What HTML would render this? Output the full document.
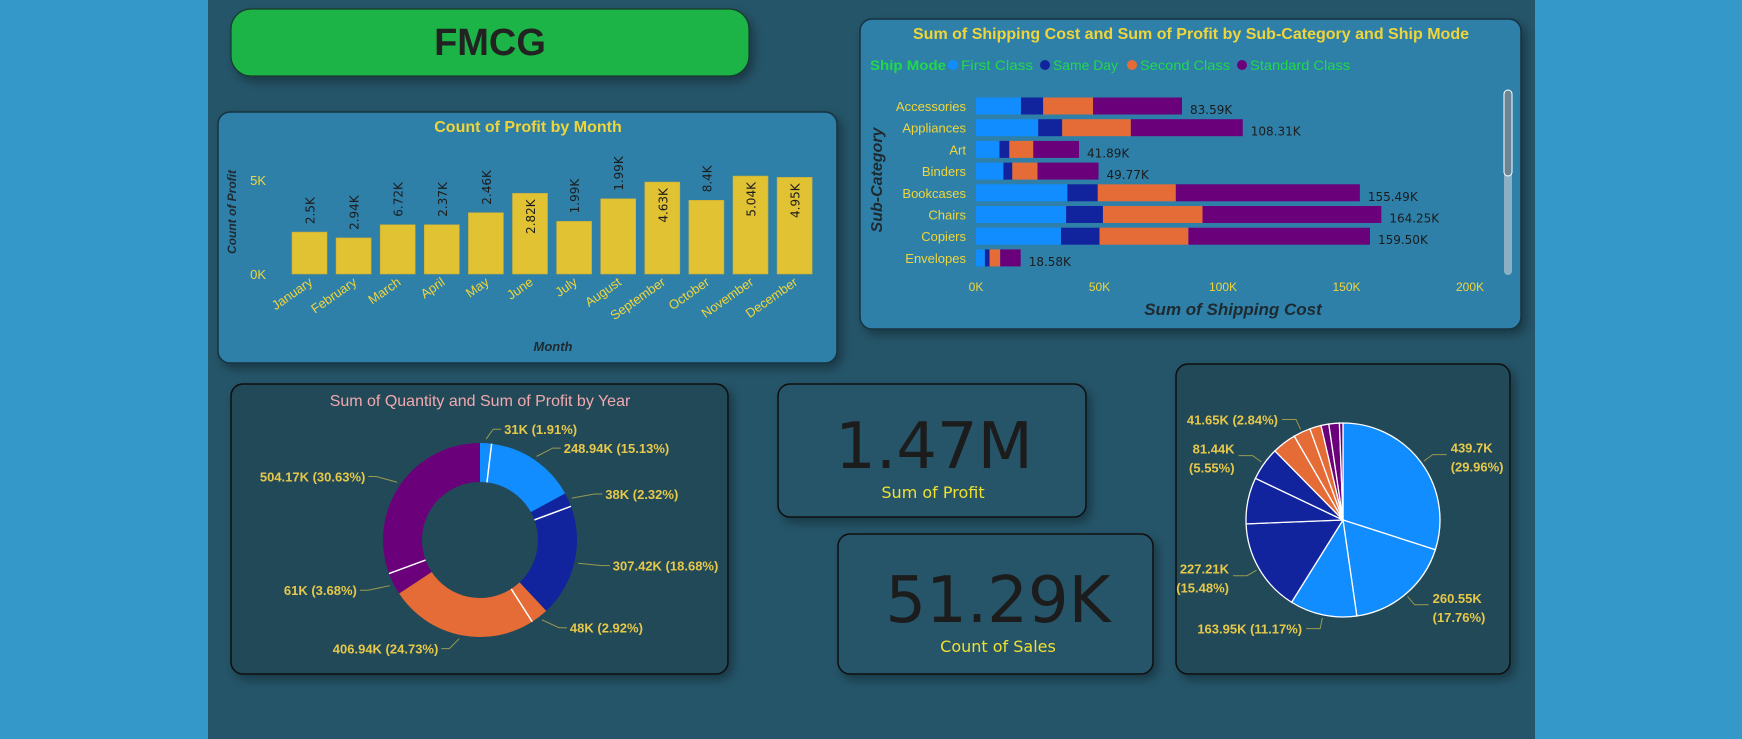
<!DOCTYPE html>
<html><head><meta charset="utf-8"><style>
html,body{margin:0;padding:0;background:#3499c9;}
svg{display:block;font-family:"Liberation Sans Narrow","Liberation Sans",sans-serif;}
</style></head><body>
<svg id="s" width="1742" height="739" viewBox="0 0 1742 739" xmlns="http://www.w3.org/2000/svg">
<defs><filter id="sh" x="-10%" y="-10%" width="130%" height="140%"><feDropShadow dx="4" dy="5" stdDeviation="5" flood-color="#000" flood-opacity="0.35"/></filter></defs>
<rect x="0" y="0" width="1742" height="739" fill="#3499c9"/>
<rect x="208" y="0" width="1327" height="739" fill="#255569"/>
<g>
<rect x="231" y="9" width="518" height="67" rx="20" fill="#1db446" stroke="#183a2a" stroke-width="1.2" filter="url(#sh)"/>
<text x="490" y="55" text-anchor="middle" font-family="Liberation Sans" font-weight="bold" font-size="38" fill="#222">FMCG</text>
</g>
<g id="barCard">
<rect x="218" y="112" width="619" height="251" rx="12" fill="#2e80a9" stroke="#17323f" stroke-width="1.5" filter="url(#sh)"/>
<text x="528" y="132" text-anchor="middle" font-size="16" font-weight="bold" fill="#f0d53a">Count of Profit by Month</text>
<text transform="translate(236,212) rotate(-90)" text-anchor="middle" font-family="Liberation Sans" font-size="12" font-weight="bold" font-style="italic" fill="#1e2a30">Count of Profit</text>
<text x="553" y="351" text-anchor="middle" font-family="Liberation Sans" font-size="13" font-weight="bold" font-style="italic" fill="#1e2a30">Month</text>
</g>
<g id="hbarCard">
<rect x="860" y="19" width="661" height="310" rx="12" fill="#2e80a9" stroke="#17323f" stroke-width="1.5" filter="url(#sh)"/>
<text x="1191" y="39" text-anchor="middle" font-size="16" font-weight="bold" fill="#f0d53a" textLength="556" lengthAdjust="spacingAndGlyphs">Sum of Shipping Cost and Sum of Profit by Sub-Category and Ship Mode</text>
<text transform="translate(882,180) rotate(-90)" text-anchor="middle" font-family="Liberation Sans" font-size="16" font-weight="bold" font-style="italic" fill="#1e2a30">Sub-Category</text>
<text x="1233" y="315" text-anchor="middle" font-family="Liberation Sans" font-size="17" font-weight="bold" font-style="italic" fill="#1e2a30">Sum of Shipping Cost</text>
<rect x="1504" y="90" width="8" height="185" rx="4" fill="#8bb0c4"/>
<rect x="1504" y="90" width="8" height="86" rx="4" fill="#6c8594" stroke="#fff" stroke-width="1"/>
</g>
<g id="donutCard">
<rect x="231" y="384" width="497" height="290" rx="12" fill="#234859" stroke="#111" stroke-width="1.5" filter="url(#sh)"/>
<text x="480" y="406" text-anchor="middle" font-size="16" fill="#f1a9b0">Sum of Quantity and Sum of Profit by Year</text>
</g>
<g>
<rect x="778" y="384" width="308" height="133" rx="12" fill="#255569" stroke="#111" stroke-width="1.5" filter="url(#sh)"/>
<text x="934" y="468" text-anchor="middle" font-family="DejaVu Sans" font-size="64" fill="#1c1c1c">1.47M</text>
<text x="933" y="498" text-anchor="middle" font-family="DejaVu Sans" font-size="16" fill="#f0e030">Sum of Profit</text>
</g>
<g>
<rect x="838" y="534" width="315" height="140" rx="12" fill="#255569" stroke="#111" stroke-width="1.5" filter="url(#sh)"/>
<text x="998" y="622" text-anchor="middle" font-family="DejaVu Sans" font-size="64" fill="#1c1c1c">51.29K</text>
<text x="998" y="652" text-anchor="middle" font-family="DejaVu Sans" font-size="16" fill="#f0e030">Count of Sales</text>
</g>
<g id="pieCard">
<rect x="1176" y="364" width="334" height="310" rx="12" fill="#234859" stroke="#111" stroke-width="1.5" filter="url(#sh)"/>
</g>
</svg>
<script>
const NS='http://www.w3.org/2000/svg';
const svg=document.getElementById('s');
function mk(tag,attrs,parent,txt){const e=document.createElementNS(NS,tag);for(const k in attrs)e.setAttribute(k,attrs[k]);if(txt!==undefined)e.textContent=txt;(parent||svg).appendChild(e);return e;}

// ---- Month bar chart data ----
const months=['January','February','March','April','May','June','July','August','September','October','November','December'];
const monthCounts=[2230,1920,2620,2620,3260,4290,2800,4000,4890,3920,5210,5140];
const monthLabels=['2.5K','2.94K','6.72K','2.37K','2.46K','2.82K','1.99K','1.99K','4.63K','8.4K','5.04K','4.95K'];
const monthTicks=[0,5000];
const monthTickLabels=['0K','5K'];

// ---- Sub-category stacked bar data (K) ----
const subCats=['Accessories','Appliances','Art','Binders','Bookcases','Chairs','Copiers','Envelopes'];
const firstClass=[18.2,25.2,9.5,11.1,37.0,36.5,34.4,3.6];
const sameDay=[9.0,9.7,4.0,3.6,12.3,14.9,15.6,1.9];
const secondClass=[20.2,27.8,9.7,10.2,31.6,40.3,36.0,4.3];
const standardClass=[36.0,45.3,18.5,24.7,74.5,72.4,73.5,8.3];
const subTotals=['83.59K','108.31K','41.89K','49.77K','155.49K','164.25K','159.50K','18.58K'];
const shipModes=['First Class','Same Day','Second Class','Standard Class'];
const costTicks=[0,50,100,150,200];
const costTickLabels=['0K','50K','100K','150K','200K'];

// ---- Donut data ----
const donutPct=[1.91,15.13,2.32,18.68,2.92,24.73,3.68,30.63];
const donutLabels=['31K (1.91%)','248.94K (15.13%)','38K (2.32%)','307.42K (18.68%)','48K (2.92%)','406.94K (24.73%)','61K (3.68%)','504.17K (30.63%)'];

// ---- Pie data ----
const piePct=[29.96,17.76,11.17,15.48,7.7,5.55,4.0,2.84,1.9,1.3,1.75,0.59];
const pieLabels1=['439.7K','260.55K','163.95K (11.17%)','227.21K',null,'81.44K',null,'41.65K (2.84%)',null,null,null,null];
const pieLabels2=['(29.96%)','(17.76%)',null,'(15.48%)',null,'(5.55%)',null,null,null,null,null,null];

const C_LB='#118dff',C_DB='#12239e',C_OR='#e66c37',C_PU='#6b007b',YEL='#f0d53a',LAB='#e6c84a';

// Month bars
(function(){
 const g=document.getElementById('barCard');
 const y0=274,y5=180,x0=292,step=44.1,bw=35;
 const ys=v=>y0-(v/5000)*(y0-y5);
 monthTicks.forEach((t,i)=>{const e=mk('text',{x:266,y:ys(t)+5,'text-anchor':'end','font-size':13,fill:YEL},g,monthTickLabels[i]);
  
  });
 months.forEach((m,i)=>{
  const x=x0+i*step,y=ys(monthCounts[i]);
  const r=mk('rect',{x:x,y:y,width:bw,height:y0-y,fill:'#e1c233',stroke:'#c9ad3a','stroke-width':0.6},g);
  
  
  const cx=x+bw/2;
  const inside=monthCounts[i]>4100;
  const ly=inside?y+6:y-8;
  const t=mk('text',{transform:`translate(${cx+5},${ly}) rotate(-90)`,'text-anchor':inside?'end':'start','font-family':'DejaVu Sans','font-size':12,fill:'#1c1c1c'},g,monthLabels[i]);
  
  
  const ml=mk('text',{transform:`translate(${cx+4},${284}) rotate(-35)`,'text-anchor':'end','font-size':13,fill:YEL},g,m);
  
  
 });
})();

// Stacked horizontal bars
(function(){
 const g=document.getElementById('hbarCard');
 const xs=v=>976+v*(1470-976)/200;
 const colors=[C_LB,C_DB,C_OR,C_PU];
 let lt=mk('text',{x:870,y:70,'font-size':14,'font-weight':'bold',fill:'#22d84a',textLength:76,lengthAdjust:'spacingAndGlyphs'},g,'Ship Mode');
 
 
 const lx=[953,1045,1132,1242];
 const lw=[72,65,90,100];
 shipModes.forEach((s,i)=>{
  const lg=mk('g',{},g);
  
  
  mk('circle',{cx:lx[i],cy:65,r:5,fill:colors[i]},lg);
  mk('text',{x:lx[i]+8,y:70,'font-size':14,fill:'#22d84a',textLength:lw[i],lengthAdjust:'spacingAndGlyphs'},lg,s);
 });
 costTicks.forEach((t,i)=>{const e=mk('text',{x:xs(t),y:291,'text-anchor':'middle','font-size':12,fill:YEL},g,costTickLabels[i]);
  
  });
 const series=[firstClass,sameDay,secondClass,standardClass];
 subCats.forEach((c,i)=>{
  const cy=106+i*21.7;
  const cl=mk('text',{x:966,y:cy+5,'text-anchor':'end','font-size':13,fill:YEL},g,c);
  
  
  let acc=0;
  series.forEach((s,k)=>{
   const r=mk('rect',{x:xs(acc),y:cy-8.5,width:xs(acc+s[i])-xs(acc),height:17,fill:colors[k]},g);
   
   
   acc+=s[i];
  });
  const tl=mk('text',{x:xs(acc)+8,y:cy+8,'font-family':'DejaVu Sans','font-size':12,fill:'#1c1c1c'},g,subTotals[i]);
  
  
 });
})();

function arc(cx,cy,r0,r1,a0,a1){
 const p=(r,a)=>[cx+r*Math.sin(a),cy-r*Math.cos(a)];
 const big=(a1-a0)>Math.PI?1:0;
 const [x1,y1]=p(r1,a0),[x2,y2]=p(r1,a1);
 if(r0===0)return `M${cx},${cy}L${x1},${y1}A${r1},${r1} 0 ${big} 1 ${x2},${y2}Z`;
 const [x3,y3]=p(r0,a1),[x4,y4]=p(r0,a0);
 return `M${x1},${y1}A${r1},${r1} 0 ${big} 1 ${x2},${y2}L${x3},${y3}A${r0},${r0} 0 ${big} 0 ${x4},${y4}Z`;
}

// Donut
(function(){
 const g=document.getElementById('donutCard');
 const cx=480,cy=540,R=97,r=58;
 const cols=[C_LB,C_LB,C_DB,C_DB,C_OR,C_OR,C_PU,C_PU];
 const tot=donutPct.reduce((a,b)=>a+b,0);
 let a=0;
 donutPct.forEach((v,i)=>{
  const a0=a/tot*2*Math.PI,a1=(a+v)/tot*2*Math.PI;
  const p=mk('path',{d:arc(cx,cy,r,R,a0,a1),fill:cols[i]},g);
  
  
  if(i%2===1){
   mk('line',{x1:cx+r*Math.sin(a0),y1:cy-r*Math.cos(a0),x2:cx+R*Math.sin(a0),y2:cy-R*Math.cos(a0),stroke:'#fff','stroke-width':1.5},g);
  }
  const am=(a0+a1)/2;
  const ex=cx+(R+4)*Math.sin(am),ey=cy-(R+4)*Math.cos(am);
  const right=Math.sin(am)>=0;
  const lx=cx+(R+22)*Math.sin(am)+(right?6:-6),ly=cy-(R+14)*Math.cos(am);
  mk('polyline',{points:`${ex},${ey} ${lx},${ly} ${lx+(right?8:-8)},${ly}`,fill:'none',stroke:'#9a9a50','stroke-width':1},g);
  const t=mk('text',{x:lx+(right?11:-11),y:ly+5,'text-anchor':right?'start':'end','font-size':13,'font-weight':'bold',fill:LAB},g,donutLabels[i]);
  
  
  a+=v;
 });
})();

// Pie
(function(){
 const g=document.getElementById('pieCard');
 const cx=1343,cy=520,R=97;
 const cols=[C_LB,C_LB,C_LB,C_DB,C_DB,C_DB,C_OR,C_OR,C_OR,C_PU,C_PU,C_PU];
 const tot=piePct.reduce((a,b)=>a+b,0);
 let a=0;
 piePct.forEach((v,i)=>{
  const a0=a/tot*2*Math.PI,a1=(a+v)/tot*2*Math.PI;
  const p=mk('path',{d:arc(cx,cy,0,R,a0,a1),fill:cols[i],stroke:'#fff','stroke-width':1.3,'stroke-linejoin':'round'},g);
  
  
  if(pieLabels1[i]){
   const am=(a0+a1)/2;
   const right=Math.sin(am)>=0;
   const ex=cx+(R+3)*Math.sin(am),ey=cy-(R+3)*Math.cos(am);
   const lx=cx+(R+14)*Math.sin(am),ly=cy-(R+14)*Math.cos(am);
   const hx=lx+(right?14:-14);
   mk('polyline',{points:`${ex},${ey} ${lx},${ly} ${hx},${ly}`,fill:'none',stroke:'#9a9a50','stroke-width':1},g);
   const tx=hx+(right?4:-4);
   const two=!!pieLabels2[i];
   const t=mk('text',{x:tx,y:ly+(two?-2:5),'text-anchor':right?'start':'end','font-size':13,'font-weight':'bold',fill:LAB},g,pieLabels1[i]);
   
   
   if(two){
    const t2=mk('text',{x:tx,y:ly+17,'text-anchor':right?'start':'end','font-size':13,'font-weight':'bold',fill:LAB},g,pieLabels2[i]);
    
    
   }
  }
  a+=v;
 });
})();
</script>
</body></html>
